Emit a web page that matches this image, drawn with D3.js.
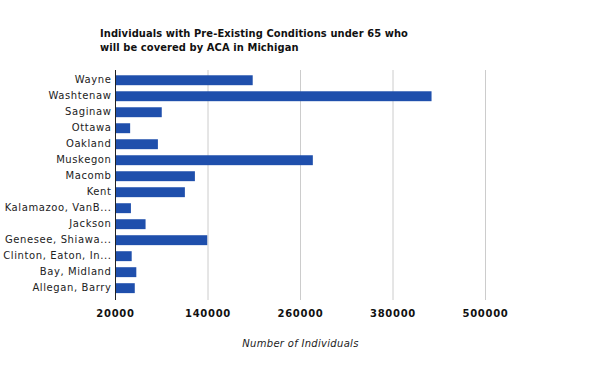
<!DOCTYPE html>
<html lang="en">
<head>
    <meta charset="UTF-8">
    <title>ACA Michigan</title>
    <script src="https://d3js.org/d3.v7.min.js"></script>
    <style>
        body { margin: 0; background: #fff; }
        text { font-family: "DejaVu Sans", Verdana, sans-serif; }
        .title { font-family: "DejaVu Sans Condensed", "DejaVu Sans", sans-serif; font-stretch: condensed;
                 font-size: 11px; font-weight: bold; fill: #111; letter-spacing: 0.1px; }
        .cat-label { font-size: 10px; fill: #222; letter-spacing: 0.6px; }
        .tick-label { font-size: 10px; font-weight: bold; fill: #111; letter-spacing: 0.7px; }
        .axis-title { font-size: 10px; font-style: italic; fill: #222; letter-spacing: 0.3px; }
    </style>
</head>
<body>
    <svg width="600" height="371"></svg>
    <script>
        const counties = [
            "Wayne", "Washtenaw", "Saginaw", "Ottawa", "Oakland", "Muskegon", "Macomb",
            "Kent", "Kalamazoo, VanB...", "Jackson", "Genesee, Shiawa...",
            "Clinton, Eaton, In...", "Bay, Midland", "Allegan, Barry"
        ];
        const individuals = [
            198000, 430000, 80000, 39000, 75000, 276000, 123000,
            110000, 40000, 59000, 139000, 41000, 47000, 45000
        ];
        const xTicks = [20000, 140000, 260000, 380000, 500000];

        const data = counties.map((c, i) => ({county: c, value: individuals[i]}));

        const margin = {top: 70, left: 115.5, right: 114.5, bottom: 71};
        const width = 600 - margin.left - margin.right,
              height = 371 - margin.top - margin.bottom;

        const svg = d3.select("svg");
        const g = svg.append("g")
            .attr("transform", `translate(${margin.left},${margin.top})`);

        const x = d3.scaleLinear().domain([20000, 500000]).range([0, width]);
        const y = d3.scaleBand().domain(counties).range([0, height]).padding(0.38);

        // gridlines
        g.selectAll(".grid")
            .data(xTicks.slice(1))
            .enter().append("line")
            .attr("x1", d => x(d)).attr("x2", d => x(d))
            .attr("y1", 0).attr("y2", height)
            .attr("stroke", "#cccccc")
            .attr("stroke-width", 1);

        g.selectAll(".bar")
            .data(data)
            .enter().append("rect")
            .attr("class", "bar")
            .attr("x", 0)
            .attr("y", d => y(d.county) - 0.8)
            .attr("width", d => x(d.value))
            .attr("height", y.bandwidth())
            .attr("fill", "#1f4fac");

        // left axis line
        g.append("line")
            .attr("x1", 0).attr("x2", 0)
            .attr("y1", 0).attr("y2", height)
            .attr("stroke", "#222")
            .attr("stroke-width", 1);

        g.selectAll(".cat-label")
            .data(counties)
            .enter().append("text")
            .attr("class", "cat-label")
            .attr("x", -4)
            .attr("y", d => y(d) + y.bandwidth() / 2 - 1.5)
            .attr("dy", "0.35em")
            .attr("text-anchor", "end")
            .text(d => d);

        g.selectAll(".tick-label")
            .data(xTicks)
            .enter().append("text")
            .attr("class", "tick-label")
            .attr("x", d => x(d))
            .attr("y", height + 17)
            .attr("text-anchor", "middle")
            .text(d => d);

        g.append("text")
            .attr("class", "axis-title")
            .attr("x", x(260000))
            .attr("y", height + 47)
            .attr("text-anchor", "middle")
            .text("Number of Individuals");

        const title = svg.append("text")
            .attr("class", "title")
            .attr("x", 100)
            .attr("y", 37);
        title.append("tspan").attr("x", 100).text("Individuals with Pre-Existing Conditions under 65 who");
        title.append("tspan").attr("x", 100).attr("dy", 13.5).text("will be covered by ACA in Michigan");
    </script>
</body>
</html>
